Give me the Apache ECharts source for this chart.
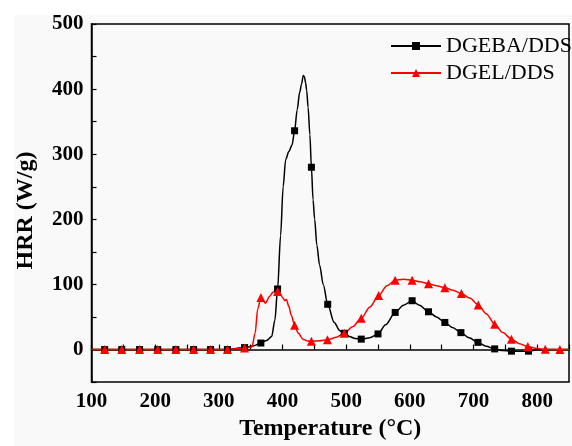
<!DOCTYPE html>
<html><head><meta charset="utf-8">
<script src="https://cdn.jsdelivr.net/npm/echarts@6/dist/echarts.min.js"></script>
<style>html,body{margin:0;padding:0;background:#fff}#c{width:572px;height:446px}</style>
</head><body><div id="c"></div>
<script>
// DGEBA/DDS curve
const dgebaTemp = [100,120.7,147.5,175.5,204,232.5,260.4,287,313.5,340.4,355,366,375,383,388,392.3,397,401,405,410,415,419,423,427,430,432.6,434.5,436.2,438,440.2,443,445.4,448,450.5,454,458.2,464,471,481,490,497,505,514,523.7,537,550,562,577,590,603.6,615,629.3,642,655,667,680.2,693,707,720,733.3,746,759.6,786.4,800,820,850];
const dgebaHRR  = [0,0,0,0,0,0,0,0,0,3,6,10,14,20,45,93,175,250,292,304,314,336,368,395,408,421,419,410,398,372,330,280,230,200,160,130,100,69.5,42,29,25,20,17,16,18,24,38,57,68,75,68,58,50,41.6,34,26,18,11,5,1,-1.5,-2.5,-2.5,-0.5,0,0];
const dgebaMarkers = [120.7,147.5,175.5,204,232.5,260.4,287,313.5,340.4,366,392.3,419,445.4,471,497,523.7,550,577,603.6,629.3,655,680.2,707,733.3,759.6,786.4];
// DGEL/DDS curve
const dgelTemp = [100,120.7,147.5,175.5,204,232.5,260.4,287,313.5,340.4,352,357,361,366,370,373,380,385,389.4,392.3,396,400,403.7,406,410,414,419,425,432,440,445.4,458,470.6,485,497,510,523.7,537,551,564,577,590,603.6,616,629.3,642,655,668,681,694,707.5,720,733.3,746,759.6,772,785.3,800,812.7,835.7,850];
const dgelHRR  = [0,0,0,0,0,0,0,0,0,2.5,4,25,62,80,75,71,82,88,90,89,86,80,75,77,66,52,37.5,25,16,13,12.7,13.5,15,19,25,35,48,65,83,98,106.6,108,106.6,104,101,98,95,91,86,79,68.5,55,39,26,16,9,4.5,1.5,0.3,0,0];
const dgelMarkers = [120.7,147.5,175.5,204,232.5,260.4,287,313.5,340.4,366,392.3,419,445.4,470.6,497,523.7,551,577,603.6,629.3,655,681,707.5,733.3,759.6,785.3,812.7,835.7];
const xTickLabels = [100,200,300,400,500,600,700,800];
const yTickLabels = [0,100,200,300,400,500];

function build(t, v, marks) {
  return t.map((x, i) => {
    const item = { value: [x, v[i]] };
    if (marks.indexOf(x) < 0) item.symbol = 'none';
    return item;
  });
}
const serif = 'Liberation Serif';
const chart = echarts.init(document.getElementById('c'));
chart.setOption({
  animation: false,
  backgroundColor: '#fff',
  graphic: [{ type: 'rect', z: -10, shape: { x: 14, y: 15, width: 560, height: 440 }, style: { fill: '#f9f9f9' } }],
  grid: { left: 91.5, top: 24, width: 488, bottom: 61, show: true, borderColor: '#000', borderWidth: 1.5, backgroundColor: 'transparent' },
  legend: {
    orient: 'vertical', left: 385, top: 30, itemWidth: 50, itemHeight: 10, itemGap: 5,
    textStyle: { fontFamily: serif, fontSize: 22, color: '#000' },
    data: ['DGEBA/DDS', 'DGEL/DDS']
  },
  xAxis: {
    type: 'value', min: 100, max: 850, interval: 50,
    name: 'Temperature (°C)', nameLocation: 'middle', nameGap: 34,
    nameTextStyle: { fontFamily: serif, fontWeight: 'bold', fontSize: 24, color: '#000' },
    axisLine: { lineStyle: { color: '#000', width: 1.5 } },
    axisTick: { inside: true, length: 5, lineStyle: { color: '#000', width: 1.2 } },
    axisLabel: { margin: 9, fontFamily: serif, fontWeight: 'bold', fontSize: 21, color: '#000',
      formatter: v => xTickLabels.indexOf(v) >= 0 ? String(v) : '' },
    splitLine: { show: false }
  },
  yAxis: {
    type: 'value', min: -50, max: 500, interval: 50,
    name: 'HRR (W/g)', nameLocation: 'middle', nameGap: 54, nameRotate: 90,
    nameTextStyle: { fontFamily: serif, fontWeight: 'bold', fontSize: 24, color: '#000', padding: [0, 15, 0, 0] },
    axisLine: { lineStyle: { color: '#000', width: 1.5 } },
    axisTick: { inside: true, length: 5, lineStyle: { color: '#000', width: 1.2 } },
    axisLabel: { margin: 8, fontFamily: serif, fontWeight: 'bold', fontSize: 21, color: '#000',
      formatter: v => yTickLabels.indexOf(v) >= 0 ? String(v) : '' },
    splitLine: { show: false }
  },
  series: [
    { name: 'DGEBA/DDS', type: 'line', smooth: 0.3, smoothMonotone: 'x', symbol: 'rect', symbolSize: 7,
      color: '#000', lineStyle: { color: '#000', width: 1.5 }, itemStyle: { color: '#000' },
      data: build(dgebaTemp, dgebaHRR, dgebaMarkers) },
    { name: 'DGEL/DDS', type: 'line', smooth: 0.3, smoothMonotone: 'x', symbol: 'triangle', symbolSize: 9,
      color: '#f00', lineStyle: { color: '#f00', width: 1.5 }, itemStyle: { color: '#f00' },
      data: build(dgelTemp, dgelHRR, dgelMarkers) }
  ]
});
</script></body></html>
